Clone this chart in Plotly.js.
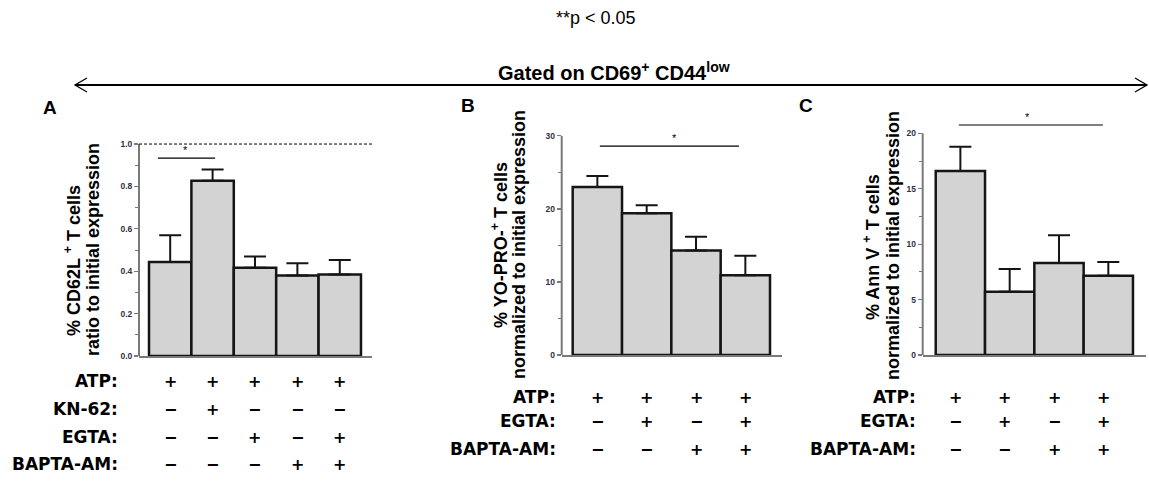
<!DOCTYPE html>
<html>
<head>
<meta charset="utf-8">
<script src="https://cdn.plot.ly/plotly-3.0.1.min.js"></script>
<style>html,body{margin:0;padding:0;background:#fff;}#chart{width:1149px;height:485px;}</style>
</head>
<body>
<div id="chart"></div>
<script>
// ---------- data ----------
const catsA = ['ATP', 'ATP+KN-62', 'ATP+EGTA', 'ATP+BAPTA-AM', 'ATP+EGTA+BAPTA-AM'];
const valsA = [0.443, 0.827, 0.416, 0.380, 0.385];
const errA  = [0.127, 0.053, 0.054, 0.058, 0.068];

const catsB = ['ATP', 'ATP+EGTA', 'ATP+BAPTA-AM', 'ATP+EGTA+BAPTA-AM'];
const valsB = [23.0, 19.4, 14.3, 10.9];
const errB  = [1.5, 1.1, 1.9, 2.7];

const catsC = ['ATP', 'ATP+EGTA', 'ATP+BAPTA-AM', 'ATP+EGTA+BAPTA-AM'];
const valsC = [16.6, 5.7, 8.3, 7.15];
const errC  = [2.2, 2.05, 2.5, 1.25];

const tableRowsA = ['ATP:', 'KN-62:', 'EGTA:', 'BAPTA-AM:'];
const tableA = [
  ['+', '+', '+', '+', '+'],
  ['−', '+', '−', '−', '−'],
  ['−', '−', '+', '−', '+'],
  ['−', '−', '−', '+', '+']
];
const tableRowsBC = ['ATP:', 'EGTA:', 'BAPTA-AM:'];
const tableBC = [
  ['+', '+', '+', '+'],
  ['−', '+', '−', '+'],
  ['−', '−', '+', '+']
];

const ticksA = [0, 0.2, 0.4, 0.6, 0.8, 1.0];
const ticksB = [0, 10, 20, 30];
const ticksC = [0, 5, 10, 15, 20];

// ---------- helpers ----------
const W = 1149, H = 485;
const px = x => x / W;
const py = y => 1 - y / H;

const BAR_FILL = '#d3d3d3';
const BAR_LINE = '#151515';
const AXIS_COL = '#7a7a7a';
const TICK_FONT = {family: 'Liberation Sans, Arial, sans-serif', size: 8.5, color: '#2e3245', weight: 'bold'};
const BOLD = 'Liberation Sans, Arial, sans-serif';
const TABLE_FONT = {family: 'DejaVu Sans, sans-serif', size: 17, color: '#000', weight: 'bold'};
const SYM_FONT = {family: 'DejaVu Sans, sans-serif', size: 16, color: '#000', weight: 'bold'};

function barTrace(cats, vals, errs, xa, ya) {
  return {
    type: 'bar', x: cats, y: vals, xaxis: xa, yaxis: ya,
    width: 1,
    marker: {color: BAR_FILL, line: {color: BAR_LINE, width: 2.5}},
    error_y: {type: 'data', symmetric: false, array: errs, arrayminus: errs.map(() => 0),
              width: 11, thickness: 2, color: BAR_LINE},
    hoverinfo: 'skip'
  };
}

const data = [
  barTrace(catsA, valsA, errA, 'x', 'y'),
  barTrace(catsB, valsB, errB, 'x2', 'y2'),
  barTrace(catsC, valsC, errC, 'x3', 'y3')
];

function xAxis(domain, range, anchor) {
  return {domain: domain, range: range, anchor: anchor, type: 'category', showticklabels: false, ticks: '',
          showline: true, linecolor: AXIS_COL, linewidth: 2, showgrid: false, zeroline: false, fixedrange: true};
}
function yAxis(domain, range, ticks, minorD, fmt, anchor) {
  return {domain: domain, range: range, anchor: anchor, tickvals: ticks, tickformat: fmt,
          ticks: 'outside', ticklen: 4, tickwidth: 1.2, tickcolor: AXIS_COL,
          minor: {dtick: minorD, tick0: 0, ticks: 'outside', ticklen: 3, tickwidth: 1, tickcolor: AXIS_COL, showgrid: false},
          tickfont: TICK_FONT, showline: false, showgrid: false, zeroline: false, fixedrange: true};
}

const layout = {
  width: W, height: H,
  margin: {l: 0, r: 0, t: 0, b: 0},
  paper_bgcolor: '#fff', plot_bgcolor: 'rgba(0,0,0,0)',
  showlegend: false, bargap: 0,
  xaxis:  xAxis([px(139), px(372)], [-0.736, 4.76], 'y'),
  yaxis:  yAxis([py(356), py(139.8)], [0, 1.02], ticksA, 0.1, '.1f', 'x'),
  xaxis2: xAxis([px(561.7), px(781.7)], [-0.723, 3.737], 'y2'),
  yaxis2: yAxis([py(355), py(130)], [0, 30.8], ticksB, 5, 'd', 'x2'),
  xaxis3: xAxis([px(922.7), px(1145.7)], [-0.764, 3.758], 'y3'),
  yaxis3: yAxis([py(355), py(116.7)], [0, 21.5], ticksC, 2.5, 'd', 'x3'),
  shapes: [],
  annotations: []
};

// y-axis lines up to the top tick
[['x', 'y', 1.0], ['x2', 'y2', 30], ['x3', 'y3', 20]].forEach(([xa, ya, top]) => {
  layout.shapes.push({type: 'line', xref: xa + ' domain', yref: ya, x0: 0, x1: 0, y0: 0, y1: top,
                      line: {color: AXIS_COL, width: 2}});
});
// dashed reference line at 1.0 in panel A
layout.shapes.push({type: 'line', xref: 'x domain', yref: 'y', x0: 0, x1: 1, y0: 1.0, y1: 1.0,
                    line: {color: '#000', width: 1, dash: '3px,2px'}});

// significance lines
const sig = [
  {xa: 'x',  ya: 'y',  x0: -0.29, x1: 1.06, y: 0.934, sx: 0.35, sy: 0.934},
  {xa: 'x2', ya: 'y2', x0: 0.05,  x1: 2.87, y: 28.6,  sx: 1.57, sy: 28.6},
  {xa: 'x3', ya: 'y3', x0: -0.03, x1: 2.89, y: 20.75, sx: 1.37, sy: 20.75}
];
sig.forEach(s => {
  layout.shapes.push({type: 'line', xref: s.xa, yref: s.ya, x0: s.x0, x1: s.x1, y0: s.y, y1: s.y,
                      line: {color: '#000', width: 1.2}});
  layout.annotations.push({xref: s.xa, yref: s.ya, x: s.sx, y: s.sy, text: '*', showarrow: false,
                           yanchor: 'bottom', yshift: 0, font: {family: BOLD, size: 11, color: '#000'}});
});

// double-headed arrow
layout.shapes.push({type: 'line', xref: 'paper', yref: 'paper', x0: px(75), x1: px(1147), y0: py(85), y1: py(85),
                    line: {color: '#000', width: 2}});
layout.shapes.push({type: 'path', xref: 'paper', yref: 'paper',
                    path: `M ${px(87)} ${py(78)} L ${px(75)} ${py(85)} L ${px(87)} ${py(92)}`,
                    line: {color: '#000', width: 1.3}});
layout.shapes.push({type: 'path', xref: 'paper', yref: 'paper',
                    path: `M ${px(1135)} ${py(78)} L ${px(1147)} ${py(85)} L ${px(1135)} ${py(92)}`,
                    line: {color: '#000', width: 1.3}});

function ann(text, x, y, font, extra) {
  layout.annotations.push(Object.assign({xref: 'paper', yref: 'paper', x: px(x), y: py(y), text: text,
    showarrow: false, xanchor: 'center', yanchor: 'middle', font: font}, extra || {}));
}

// header texts
ann('**p < 0.05', 596, 18, {family: BOLD, size: 18, color: '#000'});
ann('Gated on CD69<sup>+</sup> CD44<sup>low</sup>', 614, 71, {family: BOLD, size: 20, color: '#000', weight: 'bold'});

// panel letters
ann('A', 50, 107, {family: BOLD, size: 19, color: '#000', weight: 'bold'});
ann('B', 468, 105, {family: BOLD, size: 19, color: '#000', weight: 'bold'});
ann('C', 806, 105, {family: BOLD, size: 19, color: '#000', weight: 'bold'});

// y-axis titles (rotated)
const TF = {family: BOLD, size: 18, color: '#000', weight: 'bold'};
ann('% CD62L <sup>+</sup> T cells', 72, 261, TF, {textangle: -90});
ann('ratio to initial expression', 93, 250, TF, {textangle: -90});
ann('% YO-PRO-<sup>+</sup> T cells', 499, 245, TF, {textangle: -90});
ann('normalized to initial expression', 519, 245, TF, {textangle: -90});
ann('% Ann V <sup>+</sup> T cells', 872, 247, TF, {textangle: -90});
ann('normalized to initial expression', 893, 246, TF, {textangle: -90});

// treatment tables
const rowYA = [381, 409, 437, 464];
tableRowsA.forEach((lab, r) => {
  ann(lab, 120, rowYA[r], TABLE_FONT, {xanchor: 'right'});
  tableA[r].forEach((s, c) => {
    layout.annotations.push({xref: 'x', yref: 'paper', x: catsA[c], y: py(rowYA[r]), text: s,
      showarrow: false, xanchor: 'center', yanchor: 'middle', font: SYM_FONT});
  });
});
const rowYBC = [397, 421, 449];
[['x2', catsB, 558, 0], ['x3', catsC, 918, -5]].forEach(([xa, cats, lx, shift]) => {
  tableRowsBC.forEach((lab, r) => {
    ann(lab, lx, rowYBC[r], TABLE_FONT, {xanchor: 'right'});
    tableBC[r].forEach((s, c) => {
      layout.annotations.push({xref: xa, yref: 'paper', x: cats[c], y: py(rowYBC[r]), text: s, xshift: shift,
        showarrow: false, xanchor: 'center', yanchor: 'middle', font: SYM_FONT});
    });
  });
});

Plotly.newPlot('chart', data, layout, {displayModeBar: false, staticPlot: true});
</script>
</body>
</html>
